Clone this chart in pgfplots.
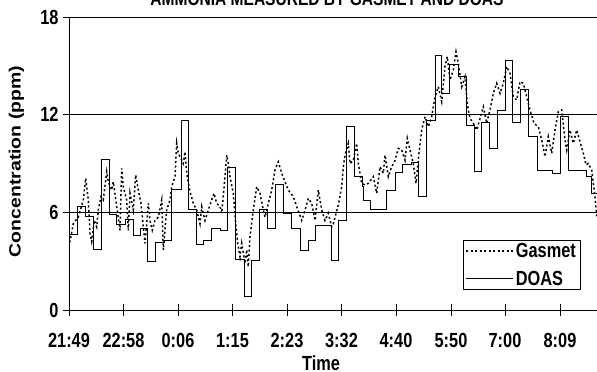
\documentclass[border=0pt]{standalone}
\usepackage{fontspec}
\setmainfont{Liberation Sans}[FakeStretch=0.8]
\newfontfamily\ylabfont{Liberation Sans}[FakeStretch=1.19]
\usepackage{pgfplots}
\pgfplotsset{compat=1.18}
\newcommand\cf{\fontsize{20.5}{22}\selectfont\bfseries}
\begin{document}
\begin{tikzpicture}
\begin{axis}[
  at={(69bp,62bp)}, anchor=south west,
  scale only axis, width=528bp, height=293bp,
  xmin=0, xmax=528, ymin=0, ymax=18,
  axis x line*=bottom, axis y line*=left,
  axis line style={-, line width=0.9bp},
  xtick={0,54.5,109,163.5,218,272.5,327,382,436,491},
  xticklabels={21:49,22:58,0:06,1:15,2:23,3:32,4:40,5:50,7:00,8:09},
  ytick={0,6,12,18},
  tick align=center, major tick length=12bp,
  tick style={black, line width=0.8bp},
  ymajorgrids, grid style={black, line width=0.8bp},
  ticklabel style={font=\cf},
  xticklabel style={yshift=-14bp},
  yticklabel style={xshift=-1bp},
  /pgf/number format/assume math mode=true,
  legend style={at={(0.968,0.068)}, anchor=south east, draw=black, line width=0.6bp,
    fill=white, font=\cf, inner sep=2bp, row sep=10bp,
    nodes={inner xsep=2bp, inner ysep=1bp}},
  legend cell align=left,
  legend image code/.code={\draw[#1] (0bp,0bp) -- (47bp,0bp);},
]
\addplot[black, line width=1.5bp, dash pattern=on 2bp off 2.5bp] coordinates {
(0,4.2) (1,4.2) (4.3,5.3) (9.3,5.7) (14.3,6.76) (16.7,8.09) (19.3,6.76) (21,4.7) (22.7,4.2)
(25.3,5.5) (27.7,5.1) (29.3,6.14) (32,6.96) (34.3,6.76) (37.7,8.5) (39.3,7.88) (42.7,7.37)
(44.3,7.88) (47.7,6.35) (51,4.9) (52.7,8.7) (54.3,7.57) (57.7,6.76) (59.3,4.9) (61,7.17)
(64.3,6.14) (66.7,8.3) (69.3,7.37) (72,6.55) (74.3,5.1) (76,4.1) (77.7,5.3) (79.3,6.55)
(81,5.5) (83.3,4.9) (86,5.5) (89.3,5.7) (92.7,6.76) (94.3,3.7) (97.7,6.14) (101,6.76)
(102.7,7.57) (106,8.19) (107.7,10.24) (109.3,9.63) (112.7,9.2) (114.3,9.0) (116,9.72)
(117.7,8.4) (121,7.27) (124.3,6.55) (127.7,6.14) (131,5.3) (132.7,6.35) (136,5.5)
(139.3,6.14) (142.7,6.76) (145,7.17) (147.7,6.55) (151,6.35) (152.7,5.94) (156,8.19)
(157.7,9.52) (159.3,9.0) (161,8.19) (164.3,7.17) (166.7,5.3) (168.7,4.1) (171,3.27)
(172.7,4.1) (176,2.87) (177.7,3.7) (179.3,2.66) (181,4.5) (184.3,6.14) (187.7,7.57)
(191,7.17) (194.3,6.14) (196,5.7) (199.3,6.55) (202.7,7.37) (206,8.6) (209.3,9.1)
(212.7,8.4) (216,7.88) (219.3,7.37) (224.3,6.96) (227.7,6.35) (232.7,5.5) (236,6.14)
(239.3,6.86) (242.7,6.55) (246,5.5) (249.3,7.37) (252.7,6.14) (256,5.5) (259.3,5.94)
(262.7,5.1) (264.3,5.3) (269.3,6.45) (272.7,7.57) (274.3,8.8) (276,9.52) (279.3,10.24)
(281,9.0) (284.3,9.2) (287.7,10.24) (289.3,9.0) (292.7,7.78) (296,7.68) (299.3,7.78)
(304.3,8.19) (307.7,7.17) (311,8.8) (314.3,8.4) (316,9.52) (319.3,8.19) (322.7,8.8)
(326,9.2) (329.3,9.93) (332.7,9.83) (336,9.2) (338.3,10.55) (341,9.83) (344.3,9.0)
(347,7.78) (350.3,9.83) (352.7,11.06) (356,11.87) (359.3,11.26) (362.7,11.87) (366,13.1)
(369.3,13.72) (372.7,12.8) (376,14.95) (378.3,15.57) (381,14.13) (384.3,14.74) (387,15.87)
(389.3,15.15) (392.7,13.72) (396,14.33) (397.7,13.1) (399.3,12.29) (401,11.77) (404.3,11.47)
(407.7,11.06) (411,11.77) (414.3,12.49) (417.7,11.47) (421,12.29) (424.3,13.31) (427.7,13.93)
(431,13.31) (434.3,13.93) (437.7,14.95) (441,14.54) (444.3,13.1) (447.7,12.9) (451,14.03)
(454.3,13.93) (457.7,13.1) (461,12.29) (465,11.47) (469.3,11.26) (472.7,10.44) (476,9.42)
(479.3,10.65) (482.7,9.63) (486,11.06) (489.3,12.18) (492.7,12.29) (496,10.44) (497.7,9.83)
(501,11.06) (504.3,10.24) (507.7,11.06) (511,10.34) (514.3,9.63) (517,8.91) (519.3,9.0)
(522.7,8.6) (526,6.96) (528,5.6)
};
\addlegendentry{Gasmet}
\addplot[black, line width=0.9bp, const plot] coordinates {
(0,4.67) (8.7,6.35) (16.7,5.77) (24.3,3.69) (32.7,9.26) (40.3,5.9) (47.7,5.28) (56,5.57)
(64.3,4.55) (71,5.02) (78.7,2.97) (86.7,4.16) (95.3,4.26) (102.7,7.43) (112,11.63)
(119.3,6.2) (127.7,4.05) (134.3,4.3) (142.7,4.98) (151,4.87) (158.7,8.77) (166.7,3.1)
(175,0.86) (182,3.07) (190.3,6.18) (198.7,5.02) (206.7,7.74) (214.3,5.94) (222.7,4.98)
(231,3.64) (239.3,4.26) (246.7,5.2) (262.7,3.07) (269.3,5.53) (277.7,11.26) (285.3,8.19)
(293.7,7.58) (294.3,6.76) (301.7,6.18) (317,7.37) (326,8.44) (333.7,8.97) (342,9.05)
(349.3,7.0) (357.7,11.63) (366,15.66) (372.7,13.3) (380.3,15.09) (389.3,14.37) (397,11.36)
(405,8.5) (412.7,11.5) (420.3,9.93) (428.7,12.28) (436,15.36) (443.3,11.5) (451,13.56)
(459.3,10.65) (468.3,8.56) (483.7,8.4) (491.7,11.9) (499.3,8.56) (517.7,8.19) (522.7,7.17)
(528,7.17)
};
\addlegendentry{DOAS}
\end{axis}
\node[font=\bfseries\fontsize{19.5}{20}\selectfont, anchor=base] at (327bp,366bp) {AMMONIA MEASURED BY GASMET AND DOAS};
\node[font=\cf, anchor=base] at (321bp,2bp) {Time};
\node[font=\ylabfont\bfseries\fontsize{16.4}{18}\selectfont, rotate=90] at (16.5bp,210.5bp) {Concentration (ppm)};
\pgfresetboundingbox
\useasboundingbox (0,0) rectangle (597bp,372bp);
\end{tikzpicture}
\end{document}
